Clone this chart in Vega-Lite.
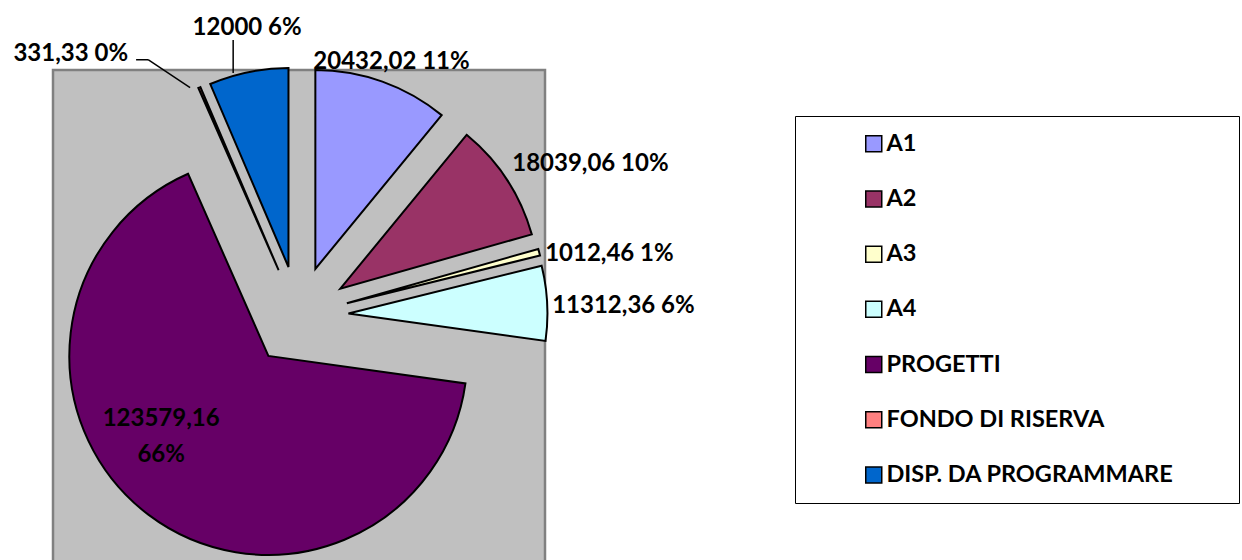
{
  "$schema": "https://vega.github.io/schema/vega-lite/v6.json",
  "width": 492,
  "height": 492,
  "autosize": {"type": "none"},
  "padding": {"left": 53, "top": 70, "right": 697, "bottom": 0},
  "background": "white",
  "config": {"view": {"fill": "#C0C0C0", "stroke": "#808080", "strokeWidth": 2.5}},
  "data": {"values": [
    {"category": "A1", "value": 20432.02, "order": 1, "label": "20432,02 11%"},
    {"category": "A2", "value": 18039.06, "order": 2, "label": "18039,06 10%"},
    {"category": "A3", "value": 1012.46, "order": 3, "label": "1012,46 1%"},
    {"category": "A4", "value": 11312.36, "order": 4, "label": "11312,36 6%"},
    {"category": "PROGETTI", "value": 123579.16, "order": 5, "label": "123579,16\n66%"},
    {"category": "FONDO DI RISERVA", "value": 331.33, "order": 6, "label": "331,33 0%"},
    {"category": "DISP. DA PROGRAMMARE", "value": 12000, "order": 7, "label": "12000 6%"}
  ]},
  "transform": [
    {"stack": "value", "groupby": [], "sort": [{"field": "order", "order": "ascending"}], "as": ["v0", "v1"]},
    {"joinaggregate": [{"op": "sum", "field": "value", "as": "total"}]},
    {"calculate": "(datum.v0 + datum.v1) / 2", "as": "midv"},
    {"calculate": "2 * PI * datum.midv / datum.total", "as": "mid"},
    {"calculate": "sin(datum.mid)", "as": "ex"},
    {"calculate": "-cos(datum.mid)", "as": "ey"}
  ],
  "encoding": {
    "x": {"field": "ex", "type": "quantitative", "scale": {"domain": [-1, 1], "range": [195.5, 295.5]}, "axis": null},
    "y": {"field": "ey", "type": "quantitative", "scale": {"domain": [-1, 1], "range": [196, 296]}, "axis": null}
  },
  "layer": [
    {
      "mark": {"type": "arc", "radius": 199, "stroke": "black", "strokeWidth": 2},
      "encoding": {
        "theta": {"field": "v0", "type": "quantitative", "scale": {"domain": [0, 186706.39], "range": [0, 6.283185307179586]}},
        "theta2": {"field": "v1"},
        "color": {
          "field": "category",
          "type": "nominal",
          "scale": {
            "domain": ["A1", "A2", "A3", "A4", "PROGETTI", "FONDO DI RISERVA", "DISP. DA PROGRAMMARE"],
            "range": ["#9999FF", "#993366", "#FFFFCC", "#CCFFFF", "#660066", "#FF8080", "#0066CC"]
          },
          "legend": {
            "orient": "none",
            "legendX": 742,
            "legendY": 46,
            "title": "\u00a0",
            "titleOrient": "right",
            "titleFontSize": 20,
            "titlePadding": 50,
            "symbolType": "square",
            "symbolSize": 256,
            "symbolStrokeColor": "black",
            "symbolStrokeWidth": 1.5,
            "labelFont": "Lato",
            "labelFontWeight": "bold",
            "labelFontSize": 23.5,
            "labelColor": "black",
            "labelOffset": 1,
            "symbolOffset": 51,
            "rowPadding": 30.2,
            "padding": 16,
            "strokeColor": "black",
            "fillColor": "white",
            "labelLimit": 400
          }
        }
      }
    },
    {
      "transform": [
        {"filter": "datum.category == 'DISP. DA PROGRAMMARE'"},
        {"calculate": "datum.ex * 5.02 - 0.3", "as": "lx"},
        {"calculate": "datum.ey * 5.02 + 0.06", "as": "ly1"},
        {"calculate": "datum.ly1 - 0.66", "as": "ly2"}
      ],
      "mark": {"type": "rule", "stroke": "black", "strokeWidth": 1.5},
      "encoding": {
        "x": {"field": "lx", "type": "quantitative"},
        "y": {"field": "ly1", "type": "quantitative"},
        "y2": {"field": "ly2"}
      }
    },
    {
      "transform": [
        {"filter": "datum.category == 'FONDO DI RISERVA'"},
        {"calculate": "datum.ex * 5.02 - 0.17", "as": "lx1"},
        {"calculate": "datum.ey * 5.02 + 0.04", "as": "ly1"},
        {"calculate": "datum.lx1 - 0.84", "as": "lx2"},
        {"calculate": "datum.ly1 - 0.56", "as": "ly2"}
      ],
      "mark": {"type": "rule", "stroke": "black", "strokeWidth": 1.5},
      "encoding": {
        "x": {"field": "lx1", "type": "quantitative"},
        "y": {"field": "ly1", "type": "quantitative"},
        "x2": {"field": "lx2"},
        "y2": {"field": "ly2"}
      }
    },
    {
      "transform": [
        {"filter": "datum.category == 'FONDO DI RISERVA'"},
        {"calculate": "datum.ex * 5.02 - 1.01", "as": "lx1"},
        {"calculate": "datum.ey * 5.02 - 0.52", "as": "ly1"},
        {"calculate": "datum.lx1 - 0.24", "as": "lx2"}
      ],
      "mark": {"type": "rule", "stroke": "black", "strokeWidth": 1.5},
      "encoding": {
        "x": {"field": "lx1", "type": "quantitative"},
        "y": {"field": "ly1", "type": "quantitative"},
        "x2": {"field": "lx2"}
      }
    },
    {
      "transform": [{"filter": "datum.category == 'A1'"}],
      "mark": {"type": "text", "radius": 223, "align": "center", "baseline": "middle", "dx": 1, "dy": 3, "font": "Lato", "fontWeight": "bold", "fontSize": 24, "color": "black"},
      "encoding": {"theta": {"field": "midv", "type": "quantitative"}, "text": {"field": "label"}}
    },
    {
      "transform": [{"filter": "datum.category == 'DISP. DA PROGRAMMARE'"}],
      "mark": {"type": "text", "radius": 246, "align": "center", "baseline": "middle", "dx": 8, "dy": 2, "font": "Lato", "fontWeight": "bold", "fontSize": 24, "color": "black"},
      "encoding": {"theta": {"field": "midv", "type": "quantitative"}, "text": {"field": "label"}}
    },
    {
      "transform": [{"filter": "datum.category == 'FONDO DI RISERVA'"}],
      "mark": {"type": "text", "radius": 240, "align": "right", "baseline": "middle", "dx": -55, "dy": 4, "font": "Lato", "fontWeight": "bold", "fontSize": 24, "color": "black"},
      "encoding": {"theta": {"field": "midv", "type": "quantitative"}, "text": {"field": "label"}}
    },
    {
      "transform": [{"filter": "datum.category == 'A2'"}],
      "mark": {"type": "text", "radius": 215, "align": "left", "baseline": "middle", "dx": -8, "dy": -7, "font": "Lato", "fontWeight": "bold", "fontSize": 24, "color": "black"},
      "encoding": {"theta": {"field": "midv", "type": "quantitative"}, "text": {"field": "label"}}
    },
    {
      "transform": [{"filter": "datum.category == 'A3'"}],
      "mark": {"type": "text", "radius": 200, "align": "left", "baseline": "middle", "dx": 5, "dy": 2, "font": "Lato", "fontWeight": "bold", "fontSize": 24, "color": "black"},
      "encoding": {"theta": {"field": "midv", "type": "quantitative"}, "text": {"field": "label"}}
    },
    {
      "transform": [{"filter": "datum.category == 'A4'"}],
      "mark": {"type": "text", "radius": 204, "align": "left", "baseline": "middle", "dx": 0, "dy": 3, "font": "Lato", "fontWeight": "bold", "fontSize": 24, "color": "black"},
      "encoding": {"theta": {"field": "midv", "type": "quantitative"}, "text": {"field": "label"}}
    },
    {
      "transform": [{"filter": "datum.category == 'PROGETTI'"}],
      "mark": {"type": "text", "radius": 133, "align": "center", "baseline": "middle", "dx": -27, "dy": -43, "lineBreak": "\n", "lineHeight": 36, "font": "Lato", "fontWeight": "bold", "fontSize": 24, "color": "black"},
      "encoding": {"theta": {"field": "midv", "type": "quantitative"}, "text": {"field": "label"}}
    }
  ]
}
